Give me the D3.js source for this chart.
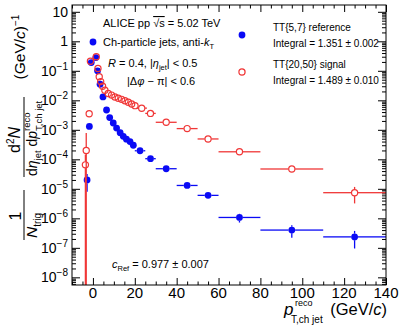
<!DOCTYPE html>
<html>
<head>
<meta charset="utf-8">
<script src="https://cdn.jsdelivr.net/npm/d3@7"></script>
<style>
  body { margin: 0; background: #fff; }
  svg text { font-family: "Liberation Sans", Arial, sans-serif; fill: #000; }
</style>
</head>
<body>
<div id="chart"></div>
<script>
// TT{5,7} reference (blue, filled)
const refX      = [-2.8, -1.7, -0.8, 1.4, 2.2, 3.4, 4.8, 6.5, 8.0, 9.7, 11.3, 13.0, 14.5, 16.0, 17.7, 19.3, 22.5, 27.5, 35, 45, 55, 70, 95, 125];
const refHalfW  = [0.5, 0.5, 0.5, 0.5, 0.5, 0.5, 0.5, 0.5, 0.5, 0.5, 0.5, 0.5, 0.5, 0.5, 0.5, 0.5, 2.5, 2.5, 5, 5, 5, 10, 15, 15];
const refVal    = [2e-5, 1.3e-3, 0.19, 0.28, 0.10, 0.035, 0.013, 4.7e-3, 2.6e-3, 1.7e-3, 1.15e-3, 8e-4, 6e-4, 4.8e-4, 4e-4, 3e-4, 1.95e-4, 1.05e-4, 4.8e-5, 1.3e-5, 6e-6, 1.07e-6, 4e-7, 2.35e-7];
const refErr    = [1.2e-5, 0, 0, 0, 0, 0, 0, 0, 0, 0, 0, 0, 0, 0, 0, 0, 0, 1.5e-5, 0, 0, 0, 3.5e-7, 1.8e-7, 1.4e-7];

// TT{20,50} signal (red, open)
const sigX      = [-3.6, -3.2, -1.8, -1.2, 1.6, 2.4, 3.0, 3.7, 4.6, 5.7, 7.3, 8.9, 10.5, 12.1, 13.7, 15.3, 16.9, 18.5, 20.1, 23.3, 27.5, 35, 45, 55, 70, 95, 125];
const sigHalfW  = [0.5, 0.5, 0.5, 0.5, 0.5, 0.5, 0.5, 0.5, 0.5, 0.5, 0.5, 0.5, 0.5, 0.5, 0.5, 0.5, 0.5, 0.5, 0.5, 2.5, 2.5, 5, 5, 5, 10, 15, 15];
const sigVal    = [6.5e-5, 2.0e-4, 3.5e-3, 0.21, 0.30, 0.12, 0.063, 0.043, 0.030, 0.022, 0.017, 0.015, 0.013, 0.0117, 0.0108, 0.0097, 0.0086, 0.0075, 0.0066, 0.0054, 0.0036, 0.0018, 0.0011, 4.9e-4, 1.8e-4, 4.7e-5, 7.4e-6];
const sigErr    = [8e-5, 5.8e-4, 0, 0, 0, 0, 0, 0, 0, 0, 0, 0, 0, 0, 0, 0, 0, 0, 0, 0, 0, 0, 0, 0, 0, 0, 4.2e-6];

const yMajor = [1e-8, 1e-7, 1e-6, 1e-5, 1e-4, 1e-3, 1e-2, 1e-1, 1, 10];
const xMajor = [0, 20, 40, 60, 80, 100, 120, 140];

const W = 399, H = 328;
const blue = "#0a0af5", red = "#f03737";

const svg = d3.select("#chart").append("svg")
  .attr("width", W).attr("height", H);

const x = d3.scaleLinear().domain([-10, 140]).range([72, 386]);
const y = d3.scaleLog().domain([5.5e-9, 17]).range([285, 5]);
const [x0, x1] = x.range(), [y0, y1] = y.range();

// minor ticks
let yMinor = [];
for (let e = -9; e <= 1; e++)
  for (let m = 2; m <= 9; m++) {
    let v = m * Math.pow(10, e);
    if (v > y.domain()[0] && v < y.domain()[1]) yMinor.push(v);
  }
let xMinor = d3.range(-10, 141, 5).filter(v => v % 20 !== 0);

let axisG = svg.append("g").attr("stroke-width", 1);
let tickAxis = function (axis, vals, size, transform) {
  axisG.append("g").attr("transform", transform)
    .call(axis.tickValues(vals).tickSize(size).tickFormat(""))
    .call(g => g.select(".domain").remove())
    .call(g => g.selectAll("line").attr("stroke", "#000"));
};
tickAxis(d3.axisLeft(y), yMajor, -8, `translate(${x0},0)`);
tickAxis(d3.axisLeft(y), yMinor, -4, `translate(${x0},0)`);
tickAxis(d3.axisRight(y), yMajor, -8, `translate(${x1},0)`);
tickAxis(d3.axisRight(y), yMinor, -4, `translate(${x1},0)`);
tickAxis(d3.axisBottom(x), xMajor, -7, `translate(0,${y0})`);
tickAxis(d3.axisBottom(x), xMinor, -3.5, `translate(0,${y0})`);
tickAxis(d3.axisTop(x), xMajor, -7, `translate(0,${y1})`);
tickAxis(d3.axisTop(x), xMinor, -3.5, `translate(0,${y1})`);

// y tick labels
yMajor.forEach(v => {
  let e = Math.round(Math.log10(v));
  let t = svg.append("text").attr("x", 68).attr("y", y(v) + 5)
    .attr("text-anchor", "end").attr("font-size", 14);
  if (e === 1) t.text("10");
  else if (e === 0) t.text("1");
  else {
    t.append("tspan").text("10");
    t.append("tspan").attr("dy", -6).attr("font-size", 10).text("\u2212" + (-e));
  }
});
// x tick labels
xMajor.forEach(v => {
  svg.append("text").attr("x", x(v)).attr("y", 297.5)
    .attr("text-anchor", "middle").attr("font-size", 15).text(v);
});

// error bars + markers
let drawSeries = function (xs, hw, vals, errs, color, filled) {
  let g = svg.append("g").attr("stroke", color).attr("stroke-width", 1.3);
  let r = 3.3;
  xs.forEach((xv, i) => {
    let cx = x(xv), cy = y(vals[i]);
    let xl = x(xv - hw[i]), xr = x(xv + hw[i]);
    if (cx - xl > r) g.append("line").attr("x1", xl).attr("x2", cx - r).attr("y1", cy).attr("y2", cy);
    if (xr - cx > r) g.append("line").attr("x1", cx + r).attr("x2", Math.min(xr, x1)).attr("y1", cy).attr("y2", cy);
    if (errs[i] > 0) {
      let lo = vals[i] - errs[i];
      let yl = lo > y.domain()[0] ? y(lo) : y0;
      let yh = y(vals[i] + errs[i]);
      if (cy - yh > r) g.append("line").attr("x1", cx).attr("x2", cx).attr("y1", yh).attr("y2", cy - r);
      if (yl - cy > r) g.append("line").attr("x1", cx).attr("x2", cx).attr("y1", cy + r).attr("y2", yl);
    }
  });
  xs.forEach((xv, i) => {
    svg.append("circle").attr("cx", x(xv)).attr("cy", y(vals[i])).attr("r", filled ? 3.4 : 3.1)
      .attr("fill", filled ? color : "none").attr("stroke", color).attr("stroke-width", filled ? 0 : 1.2);
  });
};
drawSeries(refX, refHalfW, refVal, refErr, blue, true);
drawSeries(sigX, sigHalfW, sigVal, sigErr, red, false);

// frame
svg.append("rect").attr("x", x0).attr("y", y1).attr("width", x1 - x0).attr("height", y0 - y1)
  .attr("fill", "none").attr("stroke", "#000").attr("stroke-width", 1);

// texts
let txt = function (xp, yp, size) {
  return svg.append("text").attr("x", xp).attr("y", yp).attr("font-size", size);
};
let t1 = txt(103, 27, 11);
t1.append("tspan").text("ALICE pp ");
t1.append("tspan").text("\u221As").attr("text-decoration", "overline");
t1.append("tspan").text(" = 5.02 TeV");
svg.append("circle").attr("cx", 93).attr("cy", 42).attr("r", 3.4).attr("fill", blue);
let t2 = txt(103, 46, 11);
t2.append("tspan").text("Ch-particle jets, anti-");
t2.append("tspan").attr("font-style", "italic").text("k");
t2.append("tspan").attr("dy", 3).attr("font-size", 7.5).text("T");
let t3 = txt(108, 67, 11);
t3.append("tspan").attr("font-style", "italic").text("R");
t3.append("tspan").text(" = 0.4, |");
t3.append("tspan").attr("font-style", "italic").text("\u03B7");
t3.append("tspan").attr("dy", 3).attr("font-size", 7.5).text("jet");
t3.append("tspan").attr("dy", -3).text("| < 0.5");
let t4 = txt(127, 85, 11);
t4.append("tspan").text("|\u0394");
t4.append("tspan").attr("font-style", "italic").text("\u03C6");
t4.append("tspan").text(" \u2212 \u03C0| < 0.6");

svg.append("circle").attr("cx", 242).attr("cy", 35).attr("r", 3.4).attr("fill", blue);
svg.append("circle").attr("cx", 242).attr("cy", 72).attr("r", 3.1).attr("fill", "none").attr("stroke", red).attr("stroke-width", 1.2);
txt(273, 31, 10).text("TT{5,7} reference");
txt(273, 47, 10).text("Integral = 1.351 \u00B1 0.002");
txt(273, 68, 10).text("TT{20,50} signal");
txt(273, 84, 10).text("Integral = 1.489 \u00B1 0.010");

let t5 = txt(112, 268, 11);
t5.append("tspan").attr("font-style", "italic").text("c");
t5.append("tspan").attr("dy", 3).attr("font-size", 7.5).text("Ref");
t5.append("tspan").attr("dy", -3).text(" = 0.977 \u00B1 0.007");

// x title
txt(284, 315, 17).attr("font-style", "italic").text("p");
txt(295, 306, 9).text("reco");
txt(291, 323, 10).text("T,ch jet");
let xu = svg.append("text").attr("x", 387).attr("y", 315).attr("text-anchor", "end").attr("font-size", 16.5);
xu.append("tspan").text("(GeV/");
xu.append("tspan").attr("font-style", "italic").text("c");
xu.append("tspan").text(")");

// y title (rotated: x' = -screenY, y' = screenX)
let yt = svg.append("g").attr("transform", "rotate(-90)");
let ytxt = function (xp, yp, size, anchor) {
  return yt.append("text").attr("x", xp).attr("y", yp).attr("font-size", size).attr("text-anchor", anchor || "middle");
};
// 1 / N_trig
ytxt(-216, 21, 16).text("1");
yt.append("line").attr("x1", -240).attr("x2", -190).attr("y1", 24).attr("y2", 24).attr("stroke", "#000").attr("stroke-width", 1);
let nt = ytxt(-238, 37, 15.5, "start");
nt.append("tspan").attr("font-style", "italic").text("N");
nt.append("tspan").attr("dy", 4).attr("font-size", 10).text("trig");
// d2N / d eta dp
let num = ytxt(-140, 20, 16);
num.append("tspan").text("d");
num.append("tspan").attr("dy", -6).attr("font-size", 10).text("2");
num.append("tspan").attr("dy", 6).attr("font-style", "italic").text("N");
yt.append("line").attr("x1", -177).attr("x2", -97).attr("y1", 24).attr("y2", 24).attr("stroke", "#000").attr("stroke-width", 1);
let den = ytxt(-176, 37, 14, "start");
den.append("tspan").text("d");
den.append("tspan").attr("font-style", "italic").text("\u03B7");
den.append("tspan").attr("dy", 4).attr("font-size", 9.5).text("jet");
den.append("tspan").attr("dy", -4).text(" d");
den.append("tspan").attr("font-style", "italic").text("p");
den.append("tspan").attr("dy", -7).attr("font-size", 9.5).text("reco");
den.append("tspan").attr("dx", -18.5).attr("dy", 12).attr("font-size", 9.5).text("T,ch jet");
// units
let un = ytxt(-47, 25, 15.5);
un.append("tspan").text("(GeV/");
un.append("tspan").attr("font-style", "italic").text("c");
un.append("tspan").text(")");
un.append("tspan").attr("dy", -6).attr("font-size", 10).text("\u22121");
</script>
</body>
</html>
